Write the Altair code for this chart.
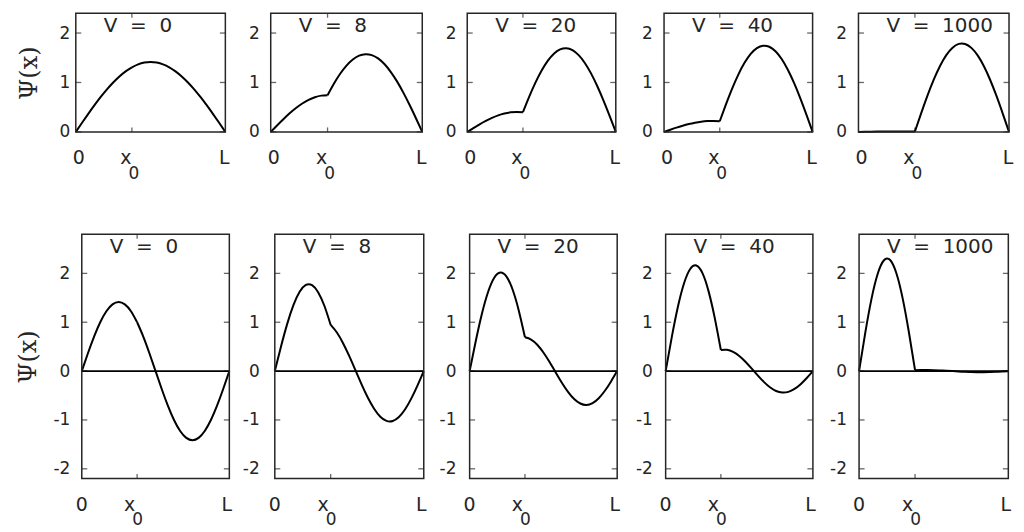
import altair as alt
import pandas as pd

# x positions in units of L
X_GRID = [0, 0.0417, 0.0833, 0.125, 0.1667, 0.2083, 0.25, 0.2917, 0.3333, 0.375,
          0.4167, 0.4583, 0.5, 0.5417, 0.5833, 0.625, 0.6667, 0.7083, 0.75, 0.7917,
          0.8333, 0.875, 0.9167, 0.9583, 1.0]
X0 = 0.375
KINK = 9  # index of x0 in X_GRID

V_LABELS = ["V\u00a0\u00a0=\u00a0\u00a00", "V\u00a0\u00a0=\u00a0\u00a08",
            "V\u00a0\u00a0=\u00a0\u00a020", "V\u00a0\u00a0=\u00a0\u00a040",
            "V\u00a0\u00a0=\u00a0\u00a01000"]

# ground state (top row)
g_v0 = [0, 0.185, 0.366, 0.541, 0.707, 0.861, 1.0, 1.122, 1.225, 1.307, 1.366, 1.402, 1.414,
        1.402, 1.366, 1.307, 1.225, 1.122, 1.0, 0.861, 0.707, 0.541, 0.366, 0.185, 0]
g_v8 = [0, 0.131, 0.257, 0.376, 0.482, 0.574, 0.648, 0.702, 0.734, 0.743, 0.975, 1.177, 1.342,
        1.465, 1.544, 1.573, 1.554, 1.487, 1.373, 1.216, 1.022, 0.795, 0.544, 0.277, 0]
g_v20 = [0, 0.078, 0.153, 0.222, 0.283, 0.334, 0.371, 0.396, 0.405, 0.399, 0.708, 0.991, 1.236,
         1.436, 1.582, 1.668, 1.693, 1.654, 1.553, 1.395, 1.184, 0.929, 0.639, 0.326, 0]
g_v40 = [0, 0.044, 0.087, 0.126, 0.160, 0.187, 0.207, 0.219, 0.222, 0.215, 0.557, 0.876, 1.160,
         1.397, 1.578, 1.695, 1.743, 1.722, 1.631, 1.474, 1.257, 0.990, 0.683, 0.349, 0]
g_v1000 = [0, 0.002, 0.004, 0.006, 0.007, 0.008, 0.009, 0.009, 0.009, 0.009, 0.380, 0.735, 1.057,
           1.334, 1.553, 1.703, 1.780, 1.779, 1.700, 1.547, 1.328, 1.050, 0.727, 0.371, 0]

# first excited state (bottom row)
e_v0 = [0, 0.366, 0.707, 1.0, 1.225, 1.366, 1.414, 1.366, 1.225, 1.0, 0.707, 0.366, 0,
        -0.366, -0.707, -1.0, -1.225, -1.366, -1.414, -1.366, -1.225, -1.0, -0.707, -0.366, 0]
e_v8 = [0, 0.503, 0.966, 1.349, 1.622, 1.763, 1.759, 1.611, 1.332, 0.945, 0.790, 0.571, 0.305,
        0.014, -0.277, -0.547, -0.771, -0.933, -1.018, -1.020, -0.939, -0.781, -0.559, -0.291, 0]
e_v20 = [0, 0.616, 1.174, 1.619, 1.910, 2.018, 1.934, 1.665, 1.237, 0.691, 0.646, 0.539, 0.380,
         0.185, -0.027, -0.237, -0.424, -0.571, -0.663, -0.692, -0.655, -0.555, -0.403, -0.211, 0]
e_v40 = [0, 0.695, 1.316, 1.798, 2.090, 2.161, 2.004, 1.632, 1.090, 0.432, 0.436, 0.393, 0.309,
         0.192, 0.055, -0.088, -0.221, -0.332, -0.407, -0.439, -0.425, -0.365, -0.267, -0.141, 0]
e_v1000 = [0, 0.787, 1.479, 1.993, 2.269, 2.273, 2.003, 1.494, 0.805, 0.019, 0.022, 0.022, 0.019,
           0.014, 0.007, 0.000, -0.008, -0.014, -0.019, -0.022, -0.022, -0.019, -0.014, -0.008, 0]

TOP_SERIES = [g_v0, g_v8, g_v20, g_v40, g_v1000]
BOT_SERIES = [e_v0, e_v8, e_v20, e_v40, e_v1000]

TOP_Y = dict(domain=[0, 2.4], ticks=[0, 1, 2])
BOT_Y = dict(domain=[-2.2, 2.8], ticks=[-2, -1, 0, 1, 2])

# x tick labels: 0, x with subscript 0, L
XLAB_ZERO = "0"
XLAB_X = "x"
XLAB_SUB = "0"
XLAB_L = "L"

# layout (pixels): every panel view is VIEW_W wide; the framed axes box sits inside it
VIEW_W = 156
STEP = 195.5
TOP_FRAME_OFF = [0, 0, 1.6, 3.5, 3.0]
TOP_FRAME_W = [150, 152, 149, 149, 151]
BOT_FRAME_OFF = [6, 4.1, 4, 5.1, 3.6]
BOT_FRAME_W = [148, 149.4, 148, 147.7, 149.7]
LABEL_PAD = [6, 11.5, 9.7, 8.2, 9.0]
TOP_XLAB_DX = dict(zero=3, x=-6, sub=2, L=-1)
BOT_XLAB_DX = dict(zero=0, x=-7.5, sub=0.5, L=-2.5)

INK = "#262626"
FONT = "DejaVu Sans"


def curve_frame(values):
    rows = []
    for i in range(0, KINK + 1):
        rows.append({"x": X_GRID[i], "psi": values[i], "seg": "a"})
    for i in range(KINK, len(X_GRID)):
        rows.append({"x": X_GRID[i], "psi": values[i], "seg": "b"})
    return pd.DataFrame(rows)


def panel(values, label, ycfg, height, off, fw, lpad, first, title_pad, zero_line, xdx):
    x_scale = alt.Scale(domain=[0, 1], range=[off, off + fw], nice=False, zero=False)
    x_enc = alt.X("x:Q", scale=x_scale, axis=None, title=None)
    y_axis = dict(
        values=ycfg["ticks"], labelExpr="toString(datum.value)",
        domain=False, ticks=False, tickSize=0, grid=False,
        labelPadding=lpad, labelFont=FONT, labelFontSize=17, labelColor=INK,
    )
    if first:
        y_axis.update(titleFont="DejaVu Serif", titleFontSize=24, titleFontWeight="normal",
                      titleColor=INK, titlePadding=title_pad)
        y_title = "\u03a8(x)"
    else:
        y_title = None
    y_enc = alt.Y("psi:Q", scale=alt.Scale(domain=ycfg["domain"], nice=False, zero=False),
                  axis=alt.Axis(**y_axis), title=y_title)

    lo, hi = ycfg["domain"]

    frame = alt.Chart(pd.DataFrame({"x": [0], "x2": [1], "psi": [lo], "psi2": [hi]})).mark_rect(
        filled=False, color=INK, strokeWidth=1.5
    ).encode(x=x_enc, x2="x2:Q", y=y_enc, y2="psi2:Q")

    line = alt.Chart(curve_frame(values)).mark_line(
        color="black", strokeWidth=2, interpolate="natural"
    ).encode(x=x_enc, y=y_enc, detail="seg:N")

    n = len(ycfg["ticks"])
    ltick = alt.Chart(pd.DataFrame({"x": [0] * n, "psi": ycfg["ticks"]})).mark_tick(
        orient="horizontal", size=5.5, thickness=1.3, color=INK, xOffset=2.75
    ).encode(x=x_enc, y=y_enc)
    rtick = alt.Chart(pd.DataFrame({"x": [1] * n, "psi": ycfg["ticks"]})).mark_tick(
        orient="horizontal", size=5.5, thickness=1.3, color=INK, xOffset=-2.75
    ).encode(x=x_enc, y=y_enc)
    btick = alt.Chart(pd.DataFrame({"x": [X0], "psi": [lo]})).mark_tick(
        orient="vertical", size=4.5, thickness=1.3, color=INK, yOffset=-2.25
    ).encode(x=x_enc, y=y_enc)
    ttick = alt.Chart(pd.DataFrame({"x": [X0], "psi": [hi]})).mark_tick(
        orient="vertical", size=4.5, thickness=1.3, color=INK, yOffset=2.25
    ).encode(x=x_enc, y=y_enc)

    txt = alt.Chart(pd.DataFrame({"x": [0], "t": [label]})).mark_text(
        align="left", baseline="alphabetic", font=FONT, fontSize=20, color=INK, dx=28
    ).encode(x=x_enc, y=alt.value(19), text="t:N")

    def xlab(xv, t, dx, dy, size):
        return alt.Chart(pd.DataFrame({"x": [xv], "t": [t]})).mark_text(
            align="center", baseline="alphabetic", font=FONT, fontSize=size,
            color=INK, dx=dx
        ).encode(x=x_enc, y=alt.value(height + dy), text="t:N")

    labs = [xlab(0, XLAB_ZERO, xdx["zero"], 32.5, 19), xlab(X0, XLAB_X, xdx["x"], 32.5, 19),
            xlab(X0, XLAB_SUB, xdx["sub"], 47, 17), xlab(1, XLAB_L, xdx["L"], 32.5, 19)]

    layers = [ltick, rtick, btick, ttick]
    if zero_line:
        zl = alt.Chart(pd.DataFrame({"x": [0], "x2": [1], "psi": [0]})).mark_rule(
            color="black", strokeWidth=1.6).encode(x=x_enc, x2="x2:Q", y=y_enc)
        layers.append(zl)
    layers += [line, frame, txt] + labs
    return alt.layer(*layers).properties(width=VIEW_W, height=height)


top_panels = [panel(TOP_SERIES[i], V_LABELS[i], TOP_Y, 119, TOP_FRAME_OFF[i], TOP_FRAME_W[i],
                    LABEL_PAD[i], i == 0, 18, False, TOP_XLAB_DX) for i in range(5)]
bot_panels = [panel(BOT_SERIES[i], V_LABELS[i], BOT_Y, 245, BOT_FRAME_OFF[i], BOT_FRAME_W[i],
                    LABEL_PAD[i], i == 0, 12, True, BOT_XLAB_DX) for i in range(5)]

top = alt.hconcat(*top_panels, spacing=STEP - VIEW_W, bounds="flush")
bot = alt.hconcat(*bot_panels, spacing=STEP - VIEW_W, bounds="flush")

chart = alt.vconcat(top, bot, spacing=221.7, bounds="flush").properties(
    padding={"left": 9, "top": 3.5, "right": 2, "bottom": 2}, background="white"
).configure_view(stroke=None)

chart.save("out.html", embed_options={"renderer": "svg", "actions": False})
